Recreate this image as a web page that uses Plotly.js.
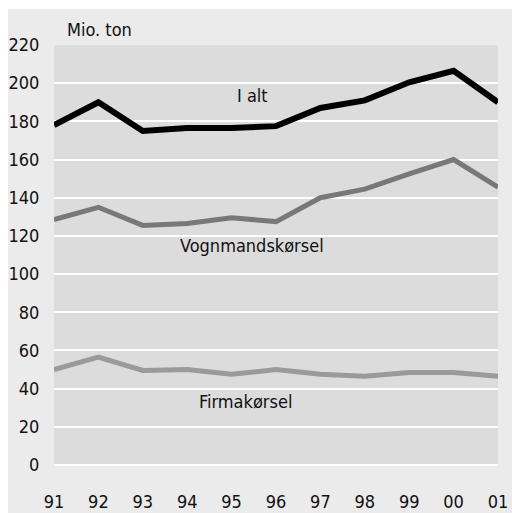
<!DOCTYPE html>
<html>
<head>
<meta charset="utf-8">
<script src="https://cdn.plot.ly/plotly-3.0.1.min.js"></script>
<style>
html,body{margin:0;padding:0;background:#ffffff;}
#chart{position:absolute;left:8px;top:9px;width:504px;height:504px;}
</style>
</head>
<body>
<div id="chart"></div>
<script>
const years = ['91','92','93','94','95','96','97','98','99','00','01'];
const iAlt = [178, 190, 175, 176.5, 176.5, 177.5, 187, 191, 200.5, 206.5, 190];
const vognmand = [128.5, 135, 125.5, 126.5, 129.5, 127.5, 140, 144.5, 152.5, 160, 145.5];
const firma = [50, 56.5, 49.5, 50, 47.5, 50, 47.5, 46.5, 48.5, 48.5, 46.5];
const yTicks = [0,20,40,60,80,100,120,140,160,180,200,220];

const FONT = 'DejaVu Sans Condensed, Liberation Sans Narrow, sans-serif';

const traces = [
  {x: years, y: firma, type:'scatter', mode:'lines', line:{color:'#9a9a9a', width:5}, hoverinfo:'none'},
  {x: years, y: vognmand, type:'scatter', mode:'lines', line:{color:'#787878', width:5}, hoverinfo:'none'},
  {x: years, y: iAlt, type:'scatter', mode:'lines', line:{color:'#000000', width:6}, hoverinfo:'none'}
];

const layout = {
  width:504, height:504,
  margin:{l:46, r:14, t:36, b:48},
  paper_bgcolor:'#ebebeb',
  plot_bgcolor:'#dcdcdc',
  showlegend:false,
  font:{family:FONT, size:18, color:'#111111'},
  xaxis:{
    type:'category', range:[0,10], showgrid:false, zeroline:false, showline:false,
    ticks:'outside', ticklen:20, tickcolor:'rgba(0,0,0,0)',
    tickfont:{family:FONT, size:18, color:'#111111'}
  },
  yaxis:{
    range:[0,220], tickvals:yTicks, showgrid:true, gridcolor:'#ffffff', gridwidth:2,
    zeroline:true, zerolinecolor:'#ffffff', zerolinewidth:2, showline:false,
    ticks:'outside', ticklen:10, tickcolor:'rgba(0,0,0,0)',
    tickfont:{family:FONT, size:18, color:'#111111'}
  },
  annotations:[
    {xref:'paper', yref:'paper', x:0.025, y:1.038, xanchor:'left', yanchor:'middle', text:'Mio. ton', showarrow:false, font:{family:FONT, size:18, color:'#111111'}},
    {x:4.46, y:193.8, text:'I alt', showarrow:false, font:{family:FONT, size:18, color:'#111111'}},
    {x:4.46, y:115.2, text:'Vognmandskørsel', showarrow:false, font:{family:FONT, size:18, color:'#111111'}},
    {x:4.32, y:33.5, text:'Firmakørsel', showarrow:false, font:{family:FONT, size:18, color:'#111111'}}
  ]
};

Plotly.newPlot('chart', traces, layout, {displayModeBar:false, staticPlot:true});
</script>
</body>
</html>
